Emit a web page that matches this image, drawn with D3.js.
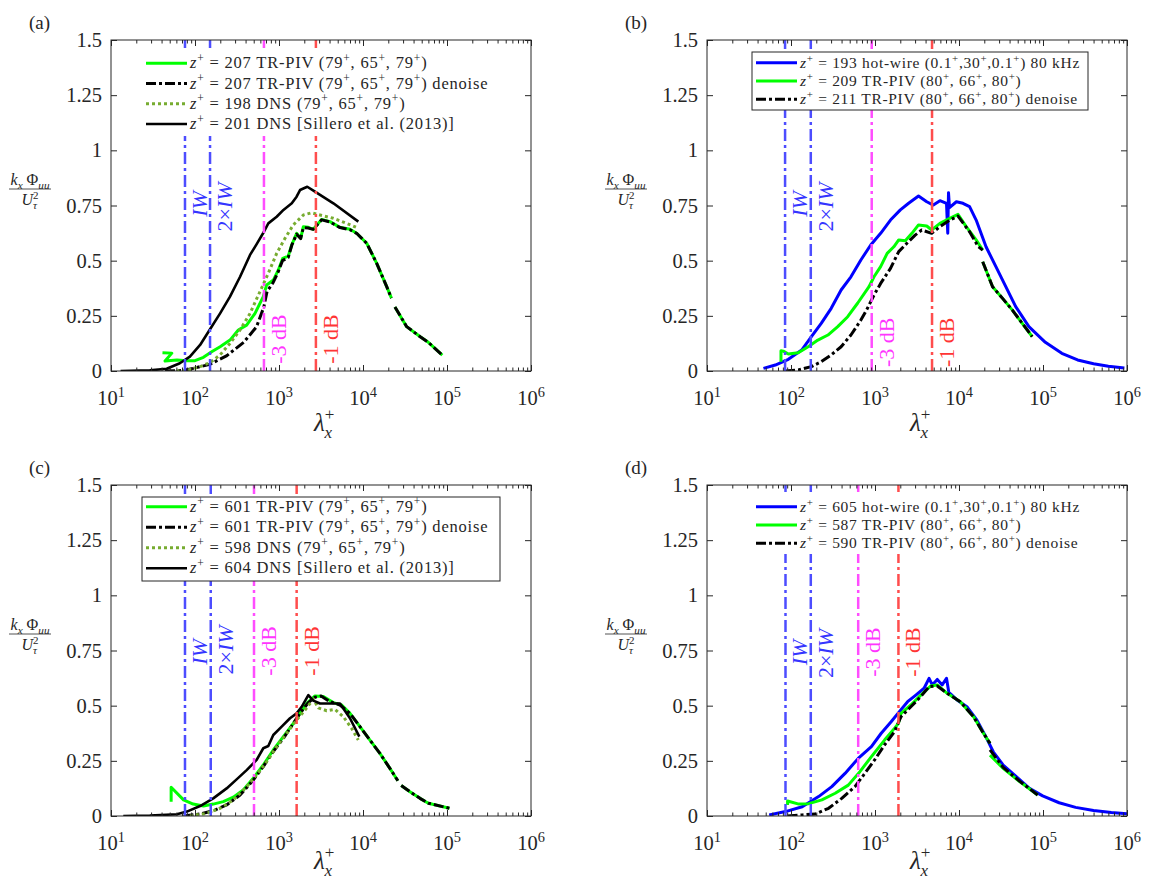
<!DOCTYPE html>
<html>
<head>
<meta charset="utf-8">
<title>Premultiplied spectra</title>
<style>
	body {
		margin: 0;
		background: #fff;
	}

	svg {
		display: block;
		font-family: 'Liberation Serif', 'DejaVu Serif', 'Times New Roman', serif;
		fill: #262626;
	}

	.frame {
		fill: none;
		stroke: #262626;
		stroke-width: 1;
	}

	.tick line {
		stroke: #262626;
	}

	.curve {
		fill: none;
		stroke-linejoin: round;
	}
</style>
</head>
<body>

<svg id="chart" width="1151" height="883"></svg>

<script src="https://d3js.org/d3.v7.min.js"></script>
<script type="text/javascript">
	(function() {
		'use strict'

		// ---- data: [lambda_x^+, k_x Phi_uu / U_tau^2], null = break ----

		var yTicks = [0, 0.25, 0.5, 0.75, 1, 1.25, 1.5]
		var yTickLabels = ['0', '0.25', '0.5', '0.75', '1', '1.25', '1.5']
		var xTickPowers = [1, 2, 3, 4, 5, 6]
		var markNames = ['*IW*', '2×*IW*', '-3 dB', '-1 dB']

		// (a) z+ ~ 200
		var aMarks = [76, 151, 662, 2750]
		var aPiv = [[41, 0.083], [53, 0.081], [44, 0.045], [61, 0.05], [80, 0.047], [100, 0.047], [126, 0.062],
			[158, 0.087], [199, 0.11], [261, 0.14], [328, 0.186], [412, 0.208], [518, 0.261], [650, 0.337],
			[713, 0.39], [857, 0.412], [982, 0.458], [1107, 0.51], [1291, 0.521], [1416, 0.571], [1622, 0.624],
			[1811, 0.601], [1950, 0.654], [2234, 0.651], [2564, 0.642], [3221, 0.687], [4045, 0.677],
			[5321, 0.651], [6998, 0.642], [8405, 0.624], [11070, 0.579], [14560, 0.488], [19150, 0.382],
			[21800, 0.33], null, [24000, 0.29], [33110, 0.201], [48500, 0.154], [60000, 0.13], [88000, 0.072]]
		var aDenoise = [[44, 0], [70, 0.002], [95, 0.012], [150, 0.03], [240, 0.07], [380, 0.13], [540, 0.2],
			[660, 0.29], [720, 0.36], [850, 0.4], [980, 0.45], [1100, 0.5], [1290, 0.515], [1420, 0.57],
			[1620, 0.62], [1810, 0.6], [1950, 0.65], [2230, 0.648], [2560, 0.642], [3220, 0.685], [4050, 0.675],
			[5320, 0.65], [7000, 0.64], [8400, 0.624], [11070, 0.579], [14560, 0.488], [19150, 0.382],
			[21800, 0.33], null, [24000, 0.29], [33110, 0.201], [48500, 0.154], [60000, 0.13], [88000, 0.072]]
		var aDns = [[60, 0], [80, 0.003], [115, 0.02], [151, 0.038], [199, 0.073], [261, 0.125], [344, 0.186],
			[452, 0.261], [594, 0.36], [746, 0.443], [938, 0.533], [1178, 0.601], [1479, 0.662], [1950, 0.707],
			[2450, 0.717], [3076, 0.707], [4436, 0.692], [6395, 0.669], [8795, 0.647]]
		var aSillero = [[13, 0], [29, 0.003], [46, 0.01], [66, 0.035], [87, 0.065], [115, 0.118], [151, 0.189],
			[199, 0.261], [261, 0.337], [344, 0.427], [452, 0.526], [542, 0.575], [662, 0.631], [746, 0.669],
			[938, 0.699], [1130, 0.73], [1420, 0.76], [1620, 0.79], [1780, 0.82], [2170, 0.835], [2680, 0.813],
			[4440, 0.76], [8800, 0.677]]
		var aLegend = ['*z*^+ = 207 TR-PIV (79^+, 65^+, 79^+)', '*z*^+ = 207 TR-PIV (79^+, 65^+, 79^+) denoise',
			'*z*^+ = 198 DNS (79^+, 65^+, 79^+)', '*z*^+ = 201 DNS [Sillero et al. (2013)]']

		// (b) z+ ~ 200, hot-wire
		var bMarks = [85, 172, 914, 4775]
		var bHotwire = [[47, 0.012], [65, 0.027], [93, 0.053], [134, 0.095], [175, 0.156], [229, 0.216],
			[301, 0.284], [395, 0.367], [517, 0.427], [679, 0.503], [889, 0.571], [1167, 0.624], [1529, 0.684],
			[2004, 0.73], [2512, 0.76], [3296, 0.793], [4130, 0.767], [4947, 0.752], [5930, 0.772], [7100, 0.76],
			[7350, 0.624], [7500, 0.808], [7700, 0.74], [9310, 0.767], [11150, 0.76], [13360, 0.745],
			[16010, 0.684], [20980, 0.563], [27500, 0.473], [36060, 0.382], [47300, 0.292], [67900, 0.201],
			[106600, 0.13], [167500, 0.08], [258000, 0.05], [400000, 0.033], [600000, 0.022], [930000, 0.014]]
		var bPiv = [[76, 0.042], [76, 0.092], [81, 0.09], [93, 0.077], [122, 0.083], [160, 0.11], [209, 0.14],
			[275, 0.163], [360, 0.201], [473, 0.246], [620, 0.307], [849, 0.382], [973, 0.427], [1167, 0.473],
			[1396, 0.533], [1675, 0.563], [1916, 0.594], [2294, 0.59], [2750, 0.624], [3296, 0.662],
			[4130, 0.657], [4730, 0.639], [5930, 0.669], [7770, 0.692], [9720, 0.71], [12190, 0.654],
			[16000, 0.594], [19150, 0.548], null, [19150, 0.495], [25100, 0.382], [33000, 0.329],
			[43200, 0.276], [56600, 0.216], [74300, 0.156]]
		var bDenoise = [[85, 0], [122, 0.005], [175, 0.02], [229, 0.042], [301, 0.073], [395, 0.11], [517, 0.163],
			[679, 0.231], [813, 0.284], [973, 0.344], [1167, 0.397], [1529, 0.465], [1916, 0.541], [2400, 0.579],
			[3005, 0.616], [3600, 0.639], [4730, 0.624], [5930, 0.654], [7770, 0.684], [9720, 0.702],
			[13360, 0.631], [17000, 0.563], [19150, 0.548], null, [19150, 0.495], [25100, 0.382],
			[33000, 0.329], [43200, 0.276], [56600, 0.216], [74300, 0.156]]
		var bLegend = ['*z*^+ = 193 hot-wire (0.1^+,30^+,0.1^+) 80 kHz', '*z*^+ = 209 TR-PIV (80^+, 66^+, 80^+)',
			'*z*^+ = 211 TR-PIV (80^+, 66^+, 80^+) denoise']

		// (c) z+ ~ 600
		var cMarks = [76, 154, 504, 1622]
		var cPiv = [[52, 0.065], [52, 0.13], [73, 0.073], [95, 0.054], [126, 0.045], [165, 0.054], [217, 0.065],
			[286, 0.085], [376, 0.118], [494, 0.171], [650, 0.231], [855, 0.299], [1127, 0.36], [1482, 0.42],
			[1778, 0.465], [2137, 0.51], [2683, 0.544], [3373, 0.541], [4436, 0.514], [5570, 0.503],
			[7000, 0.465], [9200, 0.405], [12100, 0.344], [15900, 0.284], [20900, 0.216], [26000, 0.16], null,
			[28500, 0.138], [36200, 0.11], [47700, 0.08], [60000, 0.058], [107000, 0.035]]
		var cDenoise = [[73, 0], [115, 0.009], [165, 0.024], [238, 0.05], [344, 0.095], [494, 0.163],
			[650, 0.224], [855, 0.292], [1127, 0.352], [1482, 0.42], [1778, 0.465], [2234, 0.514], [2683, 0.538],
			[3170, 0.544], [4045, 0.518], [5320, 0.503], [7000, 0.465], [9200, 0.405], [12100, 0.344],
			[15900, 0.284], [20900, 0.216], [26000, 0.16], null, [28500, 0.138], [36200, 0.11], [47700, 0.08],
			[60000, 0.058], [107000, 0.035]]
		var cDns = [[87, 0], [138, 0.012], [199, 0.035], [286, 0.073], [412, 0.133], [542, 0.186], [713, 0.246],
			[938, 0.314], [1235, 0.375], [1622, 0.435], [2040, 0.48], [2560, 0.53], [2940, 0.49], [3700, 0.477],
			[4645, 0.483], [5835, 0.45], [7330, 0.397], [8795, 0.344]]
		var cSillero = [[14, 0], [29, 0.002], [61, 0.008], [80, 0.02], [115, 0.045], [165, 0.08], [238, 0.125],
			[313, 0.166], [412, 0.208], [542, 0.254], [650, 0.307], [746, 0.317], [855, 0.367], [1076, 0.405],
			[1352, 0.443], [1622, 0.465], [1862, 0.495], [2234, 0.548], [2564, 0.523], [3076, 0.51],
			[5320, 0.51], [7000, 0.443], [9040, 0.36]]
		var cLegend = ['*z*^+ = 601 TR-PIV (79^+, 65^+, 79^+)', '*z*^+ = 601 TR-PIV (79^+, 65^+, 79^+) denoise',
			'*z*^+ = 598 DNS (79^+, 65^+, 79^+)', '*z*^+ = 604 DNS [Sillero et al. (2013)]']

		// (d) z+ ~ 600, hot-wire
		var dMarks = [86, 172, 631, 1901]
		var dHotwire = [[55, 0.005], [86, 0.02], [136, 0.042], [213, 0.088], [306, 0.133], [440, 0.193],
			[631, 0.261], [906, 0.314], [1186, 0.375], [1556, 0.427], [1950, 0.473], [2443, 0.518], [3063, 0.548],
			[3840, 0.579], [4400, 0.624], [4810, 0.594], [5510, 0.619], [6310, 0.594], [7100, 0.624],
			[7570, 0.56], [9480, 0.526], [12420, 0.495], [16290, 0.435], [21340, 0.352], [25580, 0.291],
			[33560, 0.231], [48100, 0.178], [69000, 0.125], [99100, 0.091], [155600, 0.06], [244500, 0.039],
			[400000, 0.025], [650000, 0.016], [1000000, 0.01]]
		var dPiv = [[91, 0.05], [91, 0.068], [124, 0.054], [163, 0.056], [233, 0.073], [336, 0.103], [481, 0.14],
			[661, 0.201], [906, 0.269], [1300, 0.344], [1703, 0.397], [1901, 0.42], [2040, 0.465], [2673, 0.503],
			[3505, 0.548], [4594, 0.589], [5510, 0.594], [7230, 0.556], [10370, 0.518], [14900, 0.45],
			[19540, 0.375], [23400, 0.329], null, [23400, 0.276], [33560, 0.216], [52600, 0.156], [86500, 0.095]]
		var dDenoise = [[91, 0], [136, 0.005], [195, 0.009], [280, 0.035], [402, 0.08], [577, 0.133],
			[756, 0.193], [990, 0.254], [1300, 0.322], [1703, 0.382], [2040, 0.45], [2673, 0.495], [3505, 0.541],
			[4400, 0.586], [5510, 0.589], [7230, 0.556], [10370, 0.518], [14900, 0.45], [19540, 0.375],
			[23400, 0.329], null, [23400, 0.3], [33560, 0.22], [52600, 0.158], [86500, 0.095]]
		var dLegend = ['*z*^+ = 605 hot-wire (0.1^+,30^+,0.1^+) 80 kHz', '*z*^+ = 587 TR-PIV (80^+, 66^+, 80^+)',
			'*z*^+ = 590 TR-PIV (80^+, 66^+, 80^+) denoise']

		// ---- styles ----

		var styles = {
			piv: { stroke: '#00ff00', width: 3, dash: null },
			denoise: { stroke: '#000', width: 3, dash: '10,3,3,3' },
			dns: { stroke: '#77ac30', width: 3, dash: '3,3' },
			sillero: { stroke: '#000', width: 2.6, dash: null },
			hotwire: { stroke: '#0000ff', width: 3, dash: null }
		}
		var markColors = ['#4d4dff', '#4d4dff', '#ff4dff', '#ff4d4d']
		var markTextColors = ['#3535ff', '#3535ff', '#ff35ff', '#ff3535']

		var W = 420
		var H = 331

		var panels = [
			{ label: '(a)', left: 111, top: 40, marks: aMarks, markY: [0.757, 0.743, 0.145, 0.145], xlab: 60,
				series: [[aPiv, 'piv'], [aDenoise, 'denoise'], [aDns, 'dns'], [aSillero, 'sillero']],
				legend: { labels: aLegend, frame: false, box: [31, 8, 358, 88], sample: [35, 76], text: 79,
					rows: [23.3, 43.5, 63.7, 84], size: 16.5, spacing: 0.8 } },
			{ label: '(b)', left: 707, top: 40, marks: bMarks, markY: [0.757, 0.743, 0.13, 0.13], xlab: 60,
				series: [[bHotwire, 'hotwire'], [bPiv, 'piv'], [bDenoise, 'denoise']],
				legend: { labels: bLegend, frame: true, box: [45, 12, 336, 58], sample: [49, 90], text: 93,
					rows: [22.7, 41, 59.3], size: 15.5, spacing: 0.7 } },
			{ label: '(c)', left: 111, top: 485, marks: cMarks, markY: [0.743, 0.752, 0.748, 0.748], xlab: 53,
				series: [[cPiv, 'piv'], [cDenoise, 'denoise'], [cDns, 'dns'], [cSillero, 'sillero']],
				legend: { labels: cLegend, frame: true, box: [31, 12, 358, 84], sample: [35, 76], text: 79,
					rows: [21.7, 42.2, 62.7, 83.2], size: 16.5, spacing: 0.8 } },
			{ label: '(d)', left: 707, top: 485, marks: dMarks, markY: [0.741, 0.736, 0.743, 0.743], xlab: 53,
				series: [[dHotwire, 'hotwire'], [dPiv, 'piv'], [dDenoise, 'denoise']],
				legend: { labels: dLegend, frame: false, box: [45, 7, 336, 62], sample: [49, 90], text: 93,
					rows: [21.7, 40, 58.3], size: 15.5, spacing: 0.7 } }
		]

		var svg = d3.select('#chart')

		// *x* italic, ^c / ^{..} superscript, _c / _{..} subscript
		function rich(text, str, size) {
			var parts = str.split(/(\*[^*]+\*|[\^_]\{[^}]*\}|[\^_][^{])/).filter(function(s) { return s })
			var base = 0
			parts.forEach(function(s) {
				var txt = s, off = 0, fs = size, it = false
				if (s[0] === '*') {
					txt = s.slice(1, -1)
					it = true
				} else if (s[0] === '^' || s[0] === '_') {
					txt = s[1] === '{' ? s.slice(2, -1) : s.slice(1)
					off = s[0] === '^' ? -0.38 * size : 0.28 * size
					fs = 0.7 * size
					it = /[a-zτ]/.test(txt)
				}
				var t = text.append('tspan')
					.text(txt)
					.style('font-size', fs + 'px')
					.attr('dy', off - base)
				if (it) t.style('font-style', 'italic')
				base = off
			})
		}

		function bare(a) {
			a.attr('font-family', null).attr('font-size', null)
			a.select('.domain').remove()
		}

		var minors = []
		d3.range(1, 6).forEach(function(p) {
			d3.range(2, 10).forEach(function(k) { minors.push(k * Math.pow(10, p)) })
		})
		var majors = xTickPowers.map(function(p) { return Math.pow(10, p) })

		panels.forEach(function(p, pi) {
			var x = d3.scaleLog().domain([10, 1e6]).range([p.left, p.left + W])
			var y = d3.scaleLinear().domain([0, 1.5]).range([p.top + H, p.top])
			var g = svg.append('g')

			var clipId = 'clip' + pi
			g.append('clipPath').attr('id', clipId)
				.append('rect')
				.attr('x', p.left).attr('y', p.top).attr('width', W).attr('height', H)

			var plot = g.append('g').attr('clip-path', 'url(#' + clipId + ')')

			var line = d3.line()
				.defined(function(d) { return d })
				.x(function(d) { return x(d[0]) })
				.y(function(d) { return y(d[1]) })

			p.series.forEach(function(s) {
				var st = styles[s[1]]
				plot.append('path')
					.datum(s[0])
					.attr('class', 'curve')
					.attr('d', line)
					.attr('stroke', st.stroke)
					.attr('stroke-width', st.width)
					.attr('stroke-dasharray', st.dash)
			})

			// resolution / attenuation markers
			plot.selectAll('.mark')
				.data(p.marks)
				.enter()
				.append('line')
				.attr('class', 'mark')
				.attr('x1', function(d) { return x(d) })
				.attr('x2', function(d) { return x(d) })
				.attr('y1', y(0))
				.attr('y2', y(1.5))
				.attr('stroke', function(d, i) { return markColors[i] })
				.attr('stroke-width', 2.5)
				.attr('stroke-dasharray', '12,4,3,4')

			p.marks.forEach(function(m, i) {
				var tx = x(m) + 14
				var ty = y(p.markY[i])
				var t = g.append('text')
					.attr('transform', 'translate(' + tx + ',' + ty + ') rotate(-90)')
					.attr('text-anchor', 'middle')
					.attr('dominant-baseline', 'central')
					.style('fill', markTextColors[i])
				rich(t, markNames[i], 22)
			})

			// legend
			var lg = p.legend
			g.append('rect')
				.attr('x', p.left + lg.box[0]).attr('y', p.top + lg.box[1])
				.attr('width', lg.box[2]).attr('height', lg.box[3])
				.attr('fill', '#fff')
				.attr('stroke', lg.frame ? '#262626' : 'none')
			lg.labels.forEach(function(lab, i) {
				var st = styles[p.series[i][1]]
				var ly = p.top + lg.rows[i]
				g.append('line')
					.attr('x1', p.left + lg.sample[0]).attr('x2', p.left + lg.sample[1])
					.attr('y1', ly).attr('y2', ly)
					.attr('stroke', st.stroke)
					.attr('stroke-width', st.width)
					.attr('stroke-dasharray', st.dash)
				var t = g.append('text')
					.attr('x', p.left + lg.text)
					.attr('y', ly + 5)
					.style('white-space', 'pre')
					.style('letter-spacing', lg.spacing + 'px')
				rich(t, lab, lg.size)
			})

			// axes: ticks inward on all four sides
			g.append('g')
				.attr('transform', 'translate(0,' + (p.top + H) + ')')
				.call(d3.axisBottom(x).tickValues(majors).tickSize(-6).tickFormat(''))
				.call(bare)
			g.append('g')
				.attr('transform', 'translate(0,' + (p.top + H) + ')')
				.call(d3.axisBottom(x).tickValues(minors).tickSize(-3.5).tickFormat(''))
				.call(bare)
			g.append('g')
				.attr('transform', 'translate(0,' + p.top + ')')
				.call(d3.axisTop(x).tickValues(majors).tickSize(-6).tickFormat(''))
				.call(bare)
			g.append('g')
				.attr('transform', 'translate(0,' + p.top + ')')
				.call(d3.axisTop(x).tickValues(minors).tickSize(-3.5).tickFormat(''))
				.call(bare)
			g.append('g')
				.attr('transform', 'translate(' + p.left + ',0)')
				.call(d3.axisLeft(y).tickValues(yTicks).tickSize(-6).tickPadding(9)
					.tickFormat(function(d, i) { return yTickLabels[i] }))
				.call(bare)
				.call(function(a) {
					a.selectAll('text').style('font-size', '20.5px').attr('fill', '#262626')
				})
			g.append('g')
				.attr('transform', 'translate(' + (p.left + W) + ',0)')
				.call(d3.axisRight(y).tickValues(yTicks).tickSize(-6).tickFormat(''))
				.call(bare)

			g.append('rect')
				.attr('class', 'frame')
				.attr('x', p.left).attr('y', p.top)
				.attr('width', W).attr('height', H)

			// x tick labels 10^n
			xTickPowers.forEach(function(pw) {
				var t = g.append('text')
					.attr('x', x(Math.pow(10, pw)))
					.attr('y', p.top + H + 34)
					.attr('text-anchor', 'middle')
				rich(t, '10^{' + pw + '}', 20.5)
			})

			// x label  lambda_x^+
			var xl = g.append('text')
				.attr('x', p.left + W / 2 - 7)
				.attr('y', p.top + H + p.xlab)
			xl.append('tspan').text('λ').style('font-size', '25px').style('font-style', 'italic')
			xl.append('tspan').text('+').style('font-size', '17px').attr('dy', -11)
			xl.append('tspan').text('x').style('font-size', '17px').style('font-style', 'italic').attr('dx', -10).attr('dy', 18)

			// y label  k_x Phi_uu / U_tau^2
			var cx = p.left - 81
			var cy = p.top + 149
			var num = g.append('text').attr('x', cx).attr('y', cy - 4).attr('text-anchor', 'middle')
			rich(num, '*k*_x Φ_{uu}', 16)
			g.append('line')
				.attr('x1', cx - 21).attr('x2', cx + 21)
				.attr('y1', cy).attr('y2', cy)
				.attr('stroke', '#262626').attr('stroke-width', 0.8)
			var den = g.append('text').attr('x', cx).attr('y', cy + 16).attr('text-anchor', 'middle')
			den.append('tspan').text('U').style('font-size', '16px').style('font-style', 'italic')
			den.append('tspan').text('2').style('font-size', '11px').attr('dy', -6)
			den.append('tspan').text('τ').style('font-size', '11px').style('font-style', 'italic').attr('dx', -5.5).attr('dy', 10)

			// panel label
			g.append('text')
				.attr('x', p.left - 82)
				.attr('y', p.top - 11)
				.style('font-size', '19px')
				.text(p.label)
		})

	})()
</script>
</body>
</html>
